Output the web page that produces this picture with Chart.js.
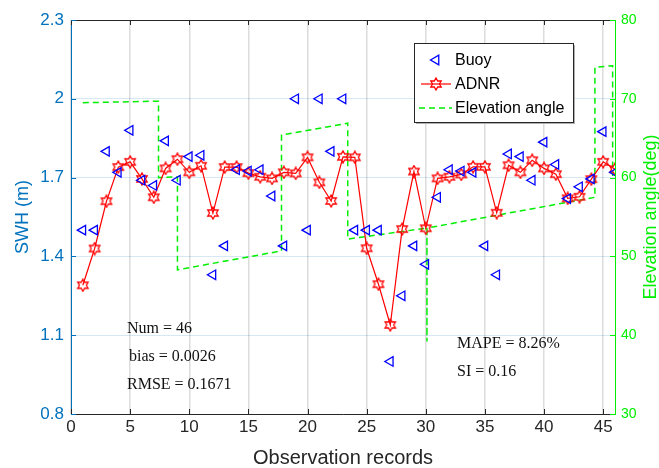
<!DOCTYPE html>
<html><head><meta charset="utf-8">
<script src="https://cdn.jsdelivr.net/npm/chart.js@4/dist/chart.umd.min.js"></script>
<style>html,body{margin:0;padding:0;background:#fff;}#wrap{width:659px;height:468px;}</style>
</head><body><div id="wrap"><canvas id="c" width="659" height="468"></canvas></div>
<script>
const records = [1,2,3,4,5,6,7,8,9,10,11,12,13,14,15,16,17,18,19,20,21,22,23,24,25,26,27,28,29,30,31,32,33,34,35,36,37,38,39,40,41,42,43,44,45,46];
const buoySWH = [1.50,1.50,1.80,1.72,1.88,1.69,1.67,1.84,1.69,1.78,1.785,1.33,1.44,1.73,1.725,1.73,1.63,1.44,2.00,1.50,2.00,1.80,2.00,1.50,1.50,1.50,1.00,1.25,1.44,1.37,1.625,1.73,1.725,1.72,1.44,1.33,1.79,1.78,1.69,1.835,1.75,1.62,1.665,1.695,1.875,1.72];
const adnrSWH = [1.29,1.43,1.61,1.74,1.76,1.695,1.625,1.735,1.77,1.72,1.745,1.565,1.74,1.74,1.717,1.703,1.697,1.72,1.716,1.777,1.682,1.611,1.779,1.777,1.431,1.294,1.139,1.504,1.723,1.507,1.697,1.703,1.712,1.741,1.741,1.566,1.747,1.72,1.766,1.735,1.713,1.621,1.627,1.694,1.76,1.732];
const elevRecord = [1,7.4,7.4,9,9,17.8,17.8,23.4,23.4,30.1,30.1,30.1,44.3,44.3,45.8,45.8];
const elevDeg = [69.5,69.7,60.0,60.1,48.3,50.7,65.4,66.9,52.2,53.6,39.2,53.6,57.5,74.0,74.2,60.2];
const xTicks = [0,5,10,15,20,25,30,35,40,45];
const swhTicks = [0.8,1.1,1.4,1.7,2.0,2.3];
const degTicks = [30,40,50,60,70,80];
const statsLeft = ['Num = 46','bias = 0.0026','RMSE = 0.1671'];
const statsRight = ['MAPE = 8.26%','SI = 0.16'];
const seriesNames = ['Buoy','ADNR','Elevation angle'];

const BLUE_AX = '#0072BD';
const GREEN = '#00ee00';
const SANS = '"Liberation Sans", Arial, sans-serif';
const SERIF = '"Liberation Serif", "Times New Roman", serif';

function hexagram(size, color){
  const c = document.createElement('canvas');
  c.width = size; c.height = size;
  const g = c.getContext('2d');
  const cx = size/2, cy = size/2, R = size/2 - 1, r = R/Math.sqrt(3);
  g.beginPath();
  for(let k=0;k<12;k++){
    const a = -Math.PI/2 + k*Math.PI/6;
    const rad = (k%2===0)?R:r;
    const px = cx + rad*Math.cos(a), py = cy + rad*Math.sin(a);
    if(k===0) g.moveTo(px,py); else g.lineTo(px,py);
  }
  g.closePath();
  g.strokeStyle = color; g.lineWidth = 1.3; g.stroke();
  return c;
}
const starImg = hexagram(14, '#ff0000');

const overlay = {
  id:'overlay',
  afterDraw(chart){
    const {ctx, chartArea:a, scales} = chart;
    const x = scales.x, y = scales.y, y2 = scales.y2;
    ctx.save();
    // top border
    ctx.strokeStyle = '#262626'; ctx.lineWidth = 1;
    ctx.beginPath(); ctx.moveTo(a.left, a.top+0.5); ctx.lineTo(a.right, a.top+0.5); ctx.stroke();
    // x ticks inward, bottom & top
    const TL = 5;
    ctx.beginPath();
    xTicks.forEach(v=>{ const px = Math.round(x.getPixelForValue(v))+0.5;
      ctx.moveTo(px,a.bottom); ctx.lineTo(px,a.bottom-TL);
      ctx.moveTo(px,a.top); ctx.lineTo(px,a.top+TL); });
    ctx.stroke();
    ctx.strokeStyle = BLUE_AX; ctx.beginPath();
    swhTicks.forEach(v=>{ const py = Math.round(y.getPixelForValue(v))+0.5;
      ctx.moveTo(a.left,py); ctx.lineTo(a.left+TL,py); });
    ctx.stroke();
    ctx.strokeStyle = GREEN; ctx.beginPath();
    degTicks.forEach(v=>{ const py = Math.round(y2.getPixelForValue(v))+0.5;
      ctx.moveTo(a.right,py); ctx.lineTo(a.right-TL,py); });
    ctx.stroke();
    // right title
    ctx.save();
    ctx.translate(651, (a.top+a.bottom)/2);
    ctx.rotate(-Math.PI/2);
    ctx.fillStyle = GREEN; ctx.font = '18px '+SANS;
    ctx.textAlign='center'; ctx.textBaseline='middle';
    ctx.fillText('Elevation angle(deg)',0,0);
    ctx.restore();
    // stats text
    ctx.fillStyle = '#111'; ctx.font = '16px '+SERIF; ctx.textBaseline='middle'; ctx.textAlign='left';
    const lx = [127,129,127];
    statsLeft.forEach((t,i)=>ctx.fillText(t, lx[i], 329+i*28));
    statsRight.forEach((t,i)=>ctx.fillText(t, 457, 344+i*28));
    // legend
    const L=414, T=43, W=159, H=79;
    ctx.fillStyle='#b0b0b0'; ctx.fillRect(L+2,T+2,W,H);
    ctx.fillStyle='#fff'; ctx.fillRect(L,T,W,H);
    ctx.strokeStyle='#262626'; ctx.lineWidth=1; ctx.strokeRect(L+0.5,T+0.5,W,H);
    const rowY=[60,84,108];
    // buoy marker
    const ds = chart.data.datasets;
    ctx.strokeStyle=ds[0].borderColor; ctx.lineWidth=1.3;
    ctx.beginPath(); const r=5.5, mx=436, my=rowY[0];
    ctx.moveTo(mx-r,my); ctx.lineTo(mx+r*0.5,my-r*0.866); ctx.lineTo(mx+r*0.5,my+r*0.866); ctx.closePath(); ctx.stroke();
    // adnr
    ctx.strokeStyle=ds[1].borderColor; ctx.lineWidth=1.2;
    ctx.beginPath(); ctx.moveTo(421,rowY[1]); ctx.lineTo(451,rowY[1]); ctx.stroke();
    ctx.drawImage(starImg, 436-7, rowY[1]-7);
    // elevation
    ctx.strokeStyle=ds[2].borderColor; ctx.lineWidth=1.5; ctx.setLineDash([6,4]);
    ctx.beginPath(); ctx.moveTo(419,rowY[2]); ctx.lineTo(452,rowY[2]); ctx.stroke(); ctx.setLineDash([]);
    ctx.fillStyle='#000'; ctx.font='16px '+SANS; ctx.textAlign='left'; ctx.textBaseline='middle';
    seriesNames.forEach((t,i)=>ctx.fillText(t,455,rowY[i]+1));
    ctx.restore();
  }
};

new Chart(document.getElementById('c'), {
  type:'line',
  data:{
    datasets:[
      {label:seriesNames[0], type:'line', showLine:false, data:records.map((r,i)=>({x:r,y:buoySWH[i]})),
       yAxisID:'y', borderColor:'#0000ff', backgroundColor:'rgba(0,0,0,0)', pointStyle:'triangle', rotation:-90,
       pointRadius:5.5, pointBorderWidth:1.3, pointBorderColor:'#0000ff', pointBackgroundColor:'rgba(0,0,0,0)', order:1},
      {label:seriesNames[1], type:'line', data:records.map((r,i)=>({x:r,y:adnrSWH[i]})),
       yAxisID:'y', borderColor:'#ff0000', borderWidth:1.2, pointStyle:starImg, pointRadius:7, fill:false, tension:0, order:2},
      {label:seriesNames[2], type:'line', data:elevRecord.map((r,i)=>({x:r,y:elevDeg[i]})),
       yAxisID:'y2', borderColor:GREEN, borderWidth:1.5, borderDash:[6,4], pointRadius:0, fill:false, tension:0, order:3}
    ]
  },
  options:{
    responsive:false, animation:false, devicePixelRatio:1,
    layout:{padding:{top:20,left:0,right:0,bottom:0}},
    plugins:{legend:{display:false}, tooltip:{enabled:false}},
    scales:{
      x:{type:'linear', min:0, max:46, position:'bottom',
        afterBuildTicks:s=>{s.ticks = xTicks.map(v=>({value:v}));},
        afterFit:s=>{s.height=54;},
        ticks:{color:'#262626', font:{family:SANS,size:17}, padding:3, maxRotation:0, autoSkip:false},
        grid:{color:'#dcdcdc', lineWidth:1.5, drawTicks:false, tickLength:0},
        border:{color:'#262626', width:1},
        title:{display:true, text:'Observation records', color:'#262626', font:{family:SANS,size:20,lineHeight:1}, padding:{top:0,bottom:0}}
      },
      y:{type:'linear', position:'left', min:0.8, max:2.3,
        afterBuildTicks:s=>{s.ticks = swhTicks.map(v=>({value:v}));},
        afterFit:s=>{s.width=71;},
        ticks:{color:BLUE_AX, font:{family:SANS,size:17}, padding:7, callback:v=>String(Math.round(v*10)/10)},
        grid:{color:'rgba(0,114,189,0.16)', lineWidth:1, drawTicks:false, tickLength:0},
        border:{color:BLUE_AX, width:1},
        title:{display:true, text:'SWH (m)', color:BLUE_AX, font:{family:SANS,size:18,lineHeight:1.2}, padding:{top:12,bottom:0}}
      },
      y2:{type:'linear', position:'right', min:30, max:80,
        afterBuildTicks:s=>{s.ticks = degTicks.map(v=>({value:v}));},
        afterFit:s=>{s.width=44;},
        ticks:{color:GREEN, font:{family:SANS,size:14}, padding:6},
        grid:{display:false, drawTicks:false, tickLength:0},
        border:{color:GREEN, width:1}
      }
    }
  },
  plugins:[overlay]
});
</script></body></html>
